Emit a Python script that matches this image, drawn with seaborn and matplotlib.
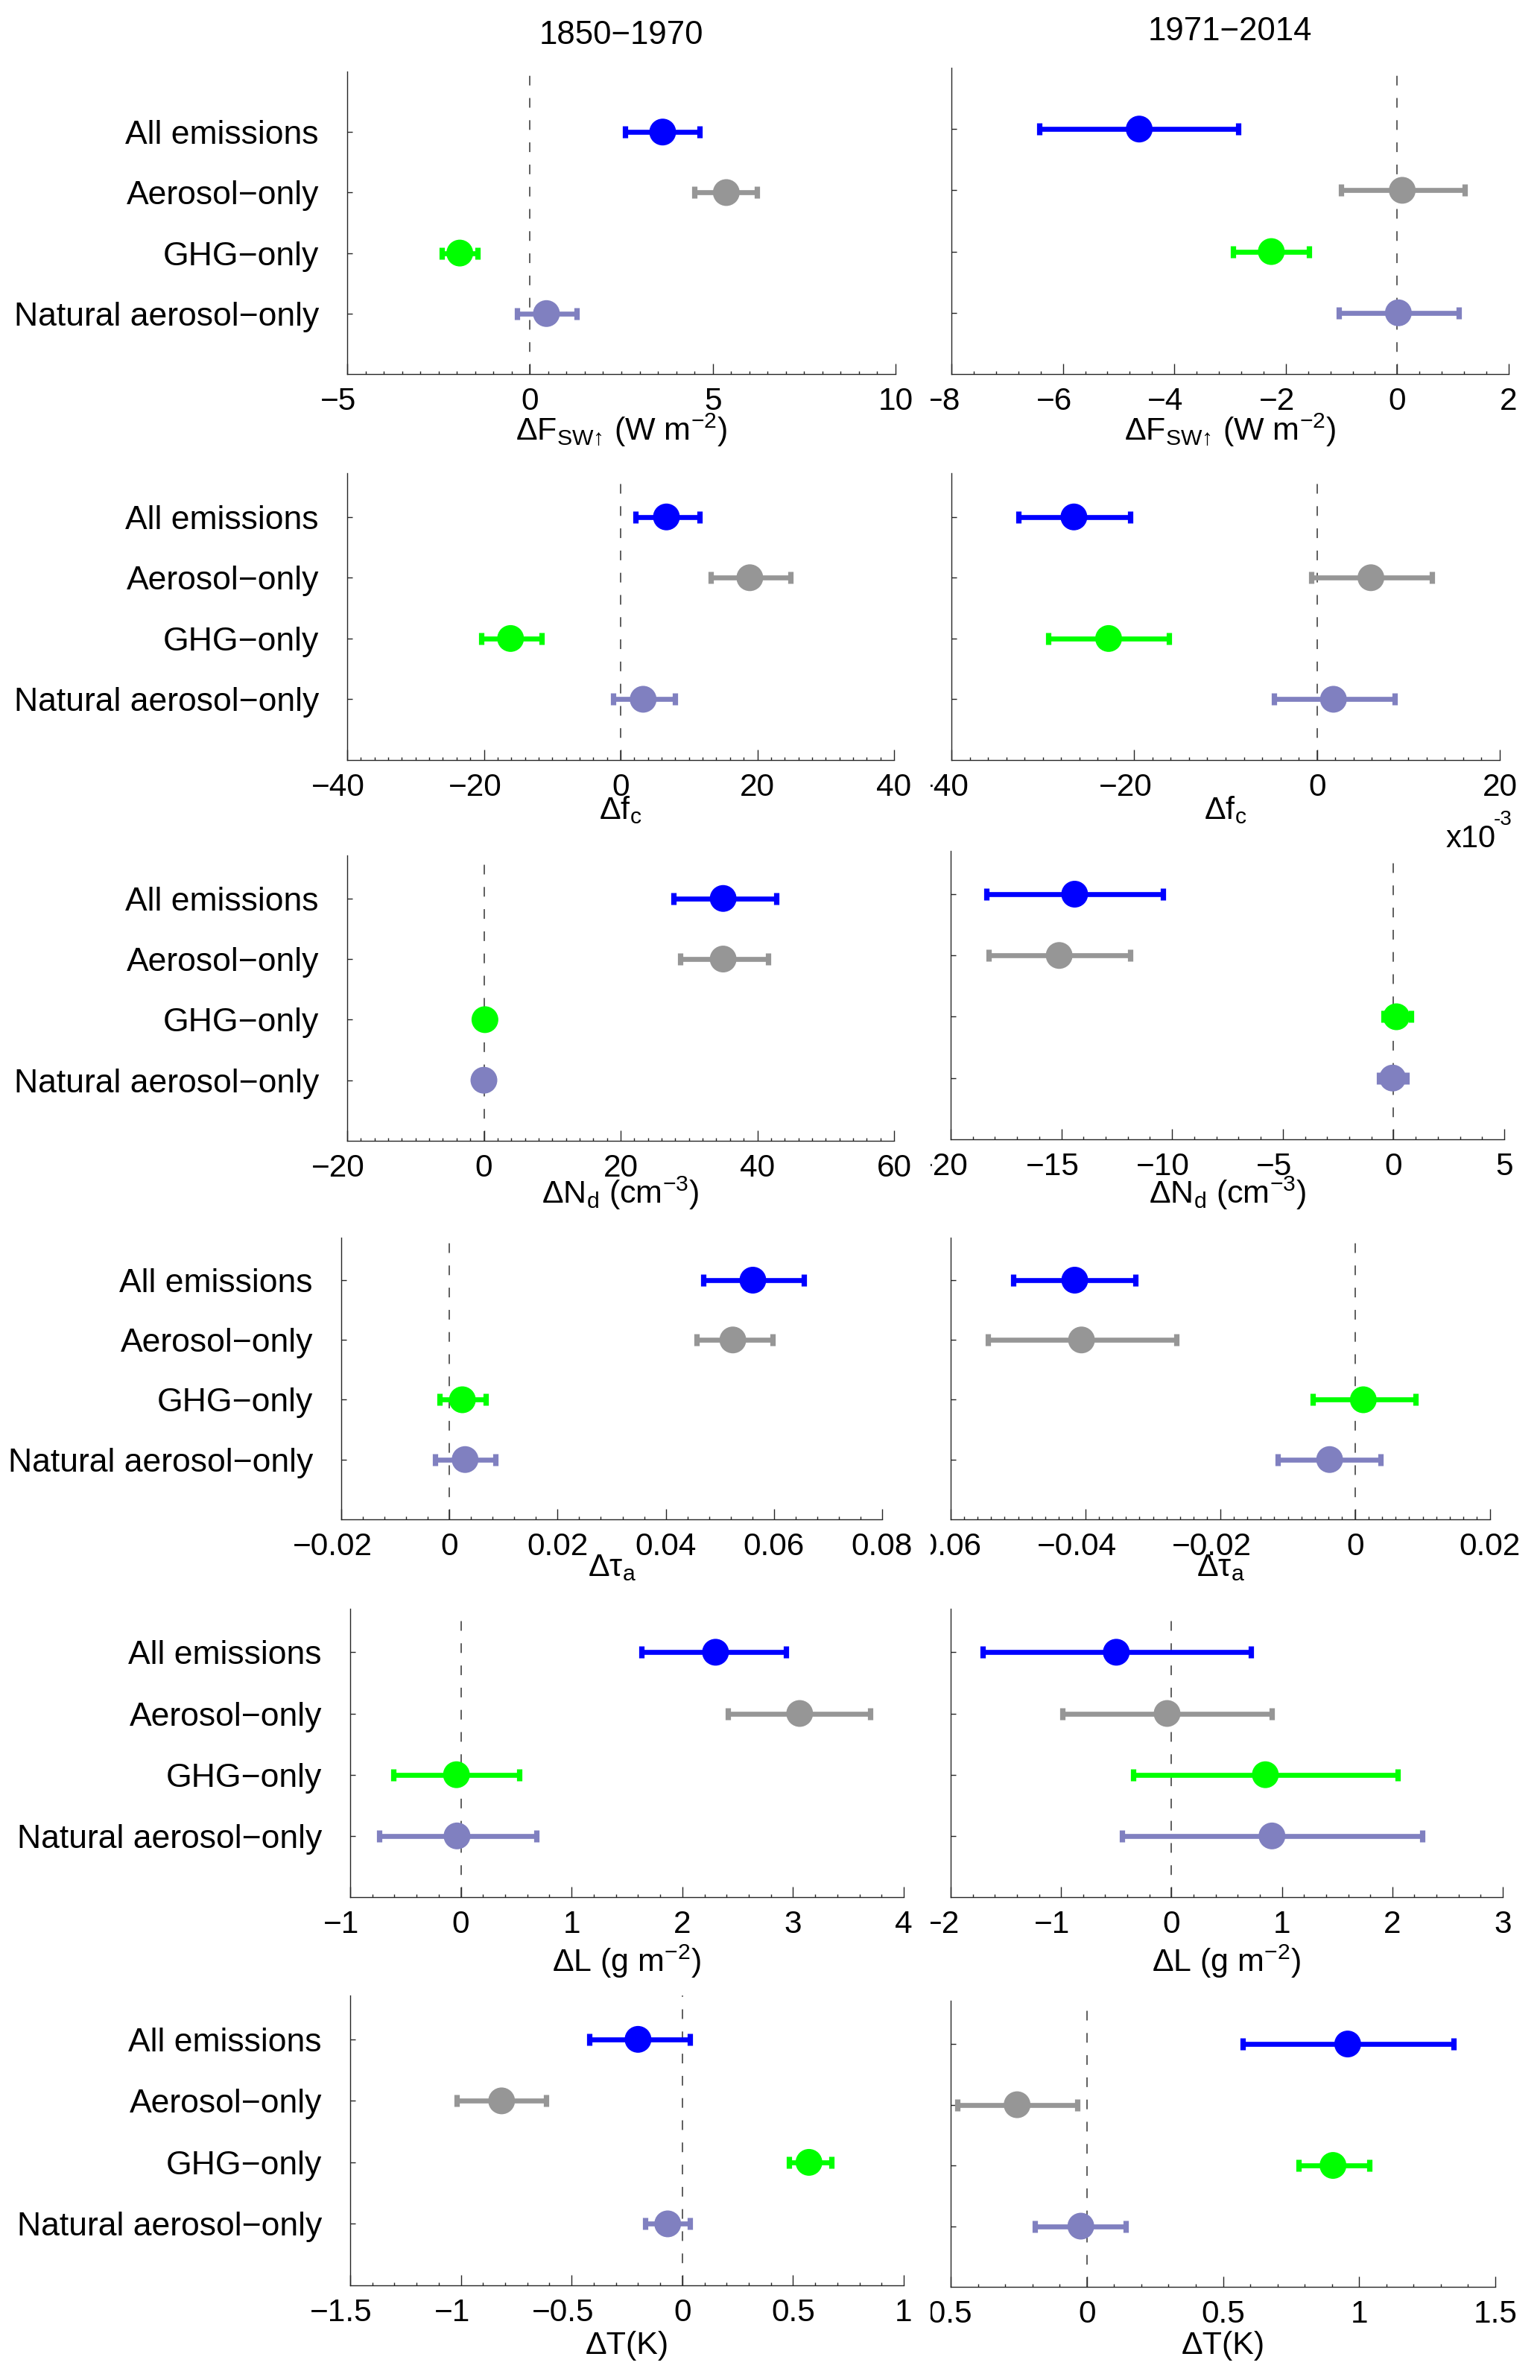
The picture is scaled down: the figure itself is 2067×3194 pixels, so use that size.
import matplotlib
matplotlib.use("Agg")
import matplotlib.pyplot as plt
from matplotlib.ticker import MultipleLocator, FuncFormatter
from matplotlib.transforms import ScaledTranslation, Bbox, TransformedBbox
import seaborn as sns

# experiments (top to bottom) and their colours
categories = ["All emissions", "Aerosol\u2212only", "GHG\u2212only", "Natural aerosol\u2212only"]
colors = ["#0000ff", "#969696", "#00ff00", "#8080c0"]
periods = ["1850\u22121970", "1971\u22122014"]

# shortwave upward flux (W m-2)
fsw_early_mean = [3.63, 5.37, -1.92, 0.45]
fsw_early_lo = [2.60, 4.50, -2.42, -0.36]
fsw_early_hi = [4.64, 6.20, -1.43, 1.27]
fsw_late_mean = [-4.63, 0.09, -2.26, 0.02]
fsw_late_lo = [-6.42, -1.01, -2.95, -1.05]
fsw_late_hi = [-2.85, 1.21, -1.58, 1.11]

# cloud fraction (late period in units of 1e-3)
fc_early_mean = [6.7, 18.9, -16.1, 3.3]
fc_early_lo = [2.2, 13.2, -20.4, -1.1]
fc_early_hi = [11.6, 24.8, -11.6, 8.0]
fc_late_mean = [-26.6, 5.9, -22.8, 1.8]
fc_late_lo = [-32.7, -0.6, -29.4, -4.7]
fc_late_hi = [-20.4, 12.6, -16.2, 8.5]

# droplet number (cm-3)
nd_early_mean = [35.0, 35.0, 0.15, 0.0]
nd_early_lo = [27.7, 28.7, -0.3, -0.3]
nd_early_hi = [42.8, 41.6, 0.5, 0.3]
nd_late_mean = [-14.4, -15.1, 0.13, -0.04]
nd_late_lo = [-18.4, -18.3, -0.45, -0.65]
nd_late_hi = [-10.4, -11.9, 0.8, 0.6]

# aerosol optical depth
tau_early_mean = [0.0561, 0.0524, 0.0024, 0.0029]
tau_early_lo = [0.0469, 0.0457, -0.0018, -0.0027]
tau_early_hi = [0.0655, 0.0597, 0.0067, 0.0085]
tau_late_mean = [-0.0416, -0.0406, 0.0012, -0.0038]
tau_late_lo = [-0.0507, -0.0545, -0.0063, -0.0115]
tau_late_hi = [-0.0326, -0.0265, 0.0089, 0.0038]

# liquid water path (g m-2)
lwp_early_mean = [2.30, 3.06, -0.04, -0.035]
lwp_early_lo = [1.63, 2.41, -0.61, -0.74]
lwp_early_hi = [2.94, 3.70, 0.53, 0.68]
lwp_late_mean = [-0.50, -0.04, 0.85, 0.91]
lwp_late_lo = [-1.71, -0.99, -0.35, -0.45]
lwp_late_hi = [0.72, 0.91, 2.05, 2.27]

# temperature (K)
t_early_mean = [-0.20, -0.816, 0.572, -0.066]
t_early_lo = [-0.42, -1.02, 0.483, -0.168]
t_early_hi = [0.035, -0.616, 0.674, 0.035]
t_late_mean = [0.958, -0.256, 0.904, -0.022]
t_late_lo = [0.573, -0.475, 0.778, -0.19]
t_late_hi = [1.347, -0.036, 1.038, 0.144]

xlabels = [
    "\u0394F$_{SW\u2191}$ (W m$^{-2}$)",
    "\u0394f$_c$",
    "\u0394N$_d$ (cm$^{-3}$)",
    "\u0394\u03c4$_a$",
    "\u0394L (g m$^{-2}$)",
    "\u0394T(K)",
]

rows = [
    [(fsw_early_mean, fsw_early_lo, fsw_early_hi), (fsw_late_mean, fsw_late_lo, fsw_late_hi)],
    [(fc_early_mean, fc_early_lo, fc_early_hi), (fc_late_mean, fc_late_lo, fc_late_hi)],
    [(nd_early_mean, nd_early_lo, nd_early_hi), (nd_late_mean, nd_late_lo, nd_late_hi)],
    [(tau_early_mean, tau_early_lo, tau_early_hi), (tau_late_mean, tau_late_lo, tau_late_hi)],
    [(lwp_early_mean, lwp_early_lo, lwp_early_hi), (lwp_late_mean, lwp_late_lo, lwp_late_hi)],
    [(t_early_mean, t_early_lo, t_early_hi), (t_late_mean, t_late_lo, t_late_hi)],
]

# axis ranges: (xmin, xmax, major, minor)
ranges = [
    [(-5, 10, 5, 0.5), (-8, 2, 2, 0.4)],
    [(-40, 40, 20, 2), (-40, 20, 20, 2)],
    [(-20, 60, 20, 2), (-20, 5, 5, 1)],
    [(-0.02, 0.08, 0.02, 0.004), (-0.06, 0.02, 0.02, 0.002)],
    [(-1, 4, 1, 0.2), (-2, 3, 1, 0.2)],
    [(-1.5, 1, 0.5, 0.1), (-0.5, 1.5, 0.5, 0.1)],
]

# layout in pixels: (x0, x1, top, bottom, ylim top)
W, H = 2067, 3194
boxes = [
    [(466, 1202, 96, 502, 0.0), (1277, 2025, 91, 502, 0.0)],
    [(466, 1200, 635, 1020, 0.28), (1277, 2013, 635, 1020, 0.28)],
    [(466, 1200, 1148, 1531, 0.29), (1276, 2019, 1142, 1529, 0.295)],
    [(458, 1184, 1661, 2039, 0.29), (1276, 2000, 1661, 2039, 0.29)],
    [(470, 1213, 2159, 2546, 0.29), (1276, 2017, 2159, 2546, 0.29)],
    [(470, 1213, 2678, 3067, 0.287), (1276, 2007, 2685, 3069, 0.287)],
]
label_baselines = [591, 1099, 1615, 2115, 2646, 3159]

sns.set_theme(style="ticks")
plt.rcParams["font.family"] = ["Liberation Sans", "DejaVu Sans"]
plt.rcParams["mathtext.fontset"] = "custom"
plt.rcParams["mathtext.rm"] = "Liberation Sans"
plt.rcParams["mathtext.it"] = "Liberation Sans"
plt.rcParams["mathtext.default"] = "regular"

line_col = "#262626"


def tick_fmt(v, pos):
    if abs(v) < 1e-9:
        return "0"
    return f"{v:g}".replace("-", "\u2212")


fig = plt.figure(figsize=(W / 100, H / 100), dpi=100)
ypos = [1, 2, 3, 4]
palette = dict(zip(categories, colors))
all_axes = []

for r in range(6):
    for c in range(2):
        x0, x1, top, bot, ytop = boxes[r][c]
        ax = fig.add_axes([x0 / W, 1 - bot / H, (x1 - x0) / W, (bot - top) / H])
        all_axes.append((ax, c))
        mean, lo, hi = rows[r][c]
        xmin, xmax, major, minor = ranges[r][c]

        ax.axvline(0, color="#333333", lw=1.1, dashes=(8.5, 11.0), zorder=1)
        for i in range(4):
            ax.errorbar(mean[i], ypos[i],
                        xerr=[[mean[i] - lo[i]], [hi[i] - mean[i]]],
                        fmt="none", ecolor=colors[i], elinewidth=4.8,
                        capsize=5.8, capthick=5.2, zorder=3)
        sns.scatterplot(x=mean, y=ypos, hue=categories, palette=palette,
                        s=670, linewidth=0, legend=False, ax=ax, zorder=4)

        ax.set_xlim(xmin, xmax)
        ax.set_ylim(5, ytop)
        ax.xaxis.set_major_locator(MultipleLocator(major))
        ax.xaxis.set_minor_locator(MultipleLocator(minor))
        ax.xaxis.set_major_formatter(FuncFormatter(tick_fmt))
        ax.set_yticks(ypos)
        if c == 0:
            ax.set_yticklabels(categories, fontsize=32, color="black")
        else:
            ax.set_yticklabels([])
        ax.set_xlabel("")
        ax.set_ylabel("")
        ax.tick_params(axis="x", which="major", direction="in", length=9.8,
                       width=1.0, color=line_col, labelsize=30.5, pad=12.5,
                       labelcolor="black")
        ax.tick_params(axis="x", which="minor", direction="in", length=3.2,
                       width=1.0, color=line_col)
        ax.tick_params(axis="y", direction="in", length=4.8, width=1.0,
                       color=line_col, pad=27.4)
        sns.despine(ax=ax)
        for side in ["left", "bottom"]:
            ax.spines[side].set_color(line_col)
            ax.spines[side].set_linewidth(1.0)

        if r == 0:
            ax.set_title(periods[c], fontsize=31.5, pad=26.6, color="black")

        fig.text((x0 + x1) / 2 / W, 1 - label_baselines[r] / H, xlabels[r],
                 ha="center", va="baseline", fontsize=31, color="black")

# exponent of the second-row right axis
fig.text(1941 / W, 1 - 1137 / H, "x10", ha="left", va="baseline",
         fontsize=30, color="black")
fig.text(2005 / W, 1 - 1107 / H, "-3", ha="left", va="baseline",
         fontsize=20, color="black")

# negative tick labels: number centred on the tick, minus sign hangs left;
# right-column labels are cut off where the left column ends
fig.canvas.draw()
shift = ScaledTranslation(-0.12, 0, fig.dpi_scale_trans)
right_clip = TransformedBbox(Bbox([[1249 / W, 0], [1, 1]]), fig.transFigure)
for ax, c in all_axes:
    locs = ax.xaxis.get_majorticklocs()
    ticks = ax.xaxis.get_major_ticks(len(locs))
    for loc, tick in zip(locs, ticks):
        if loc < -1e-9:
            tick.label1.set_transform(tick.label1.get_transform() + shift)
        if c == 1:
            tick.label1.set_clip_box(right_clip)
            tick.label1.set_clip_on(True)

fig.savefig("out.png", dpi=100, facecolor="white")
